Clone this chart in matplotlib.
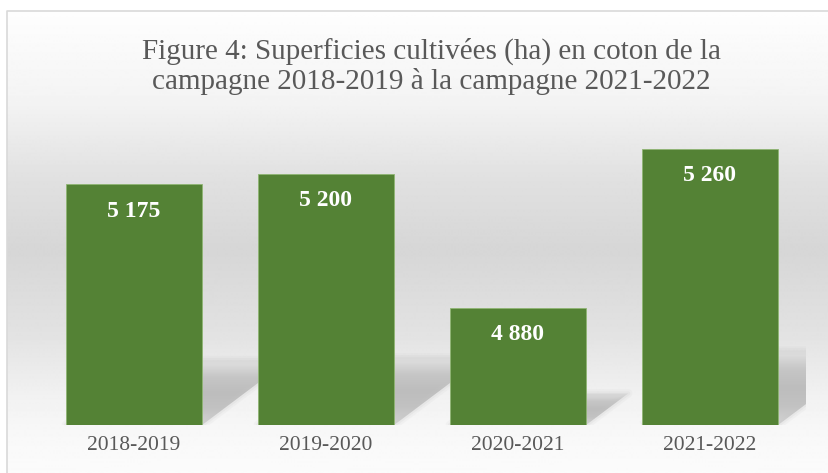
import numpy as np
import matplotlib
matplotlib.use("Agg")
import matplotlib.pyplot as plt
from matplotlib.patches import Polygon
from matplotlib.colors import LinearSegmentedColormap

campagnes = ["2018-2019", "2019-2020", "2020-2021", "2021-2022"]
superficies = [5175, 5200, 4880, 5260]
y_min, y_max = 4600, 5300

W, H = 829, 473
fig = plt.figure(figsize=(W / 100, H / 100), dpi=100)

# chart background: vertical grey gradient inside a thin border
bg = fig.add_axes([0, 0, 1, 1], zorder=-10)
bg.set_xlim(0, W)
bg.set_ylim(H, 0)
bg.axis("off")
stops_y = [11, 100, 180, 250, 330, 400, 440, 473]
stops_v = [0.995, 0.955, 0.88, 0.84, 0.885, 0.95, 0.975, 0.985]
yy = np.arange(11, H)
shade = np.interp(yy, stops_y, stops_v)
grad = np.repeat(shade[:, None], 2, axis=1)
bg.imshow(grad, cmap="gray", vmin=0, vmax=1, aspect="auto",
          extent=(7, W, H, 11), interpolation="bilinear")
bg.plot([7, 7, W], [H, 11.5, 11.5], color="#d9d9d9", lw=1.2)

ax_l, ax_b, ax_w, ax_h = 38, 48, 768, 293
ax = fig.add_axes([ax_l / W, ax_b / H, ax_w / W, ax_h / H])
ax.set_facecolor("none")

px_y = ax_h / (y_max - y_min)
px_x = ax_w / len(campagnes)
width = 0.71

# perspective shadow behind each bar
shadow_cmap = LinearSegmentedColormap.from_list(
    "sh", ["#d4d4d4", "#c2c2c2", "#bdbdbd", "#c6c6c6", "#e2e2e2"])
for i, v in enumerate(superficies):
    s = 0.27 * (v - y_min)
    dx = 1.33 * s * px_y / px_x
    x0, x1 = i - width / 2, i + width / 2
    pts = [(x0, y_min), (x1, y_min), (x1 + dx, y_min + s), (x0 + dx, y_min + s)]
    poly = Polygon(pts, closed=True, facecolor="none", edgecolor="none")
    ax.add_patch(poly)
    im = ax.imshow(np.linspace(0, 1, 50)[:, None], cmap=shadow_cmap, aspect="auto",
                   extent=(x0, x1 + dx, y_min + s, y_min), interpolation="bilinear", zorder=1)
    im.set_clip_path(poly)
    for lw, a in [(6, 0.12), (3, 0.18)]:
        ax.add_patch(Polygon(pts, closed=True, facecolor="none", edgecolor="#c8c8c8",
                             lw=lw, alpha=a, zorder=1, joinstyle="round"))

ax.set_xlim(-0.5, len(campagnes) - 0.5)
ax.set_ylim(y_min, y_max)

ax.bar(range(len(campagnes)), [v - y_min for v in superficies], bottom=y_min,
       width=width, color="#548235", edgecolor="#8fb573", linewidth=0.6, zorder=3)

for i, v in enumerate(superficies):
    label = f"{v:,}".replace(",", " ")
    ax.annotate(label, (i, v), xytext=(0, -19.5), textcoords="offset points",
                ha="center", va="center", color="white", fontsize=17,
                fontweight="bold", family="Liberation Serif", zorder=4)

ax.set_xticks(range(len(campagnes)))
ax.set_xticklabels(campagnes, family="Liberation Serif", fontsize=15.5, color="#595959")
ax.tick_params(axis="x", length=0, pad=8)
ax.set_yticks([])
for sp in ax.spines.values():
    sp.set_visible(False)

fig.text(431 / W, 1 - 66 / H,
         "Figure 4: Superficies cultivées (ha) en coton de la\ncampagne 2018-2019 à la campagne 2021-2022",
         ha="center", va="center", family="Liberation Serif", fontsize=21,
         color="#595959", linespacing=1.15)

fig.savefig("out.png", dpi=100)
